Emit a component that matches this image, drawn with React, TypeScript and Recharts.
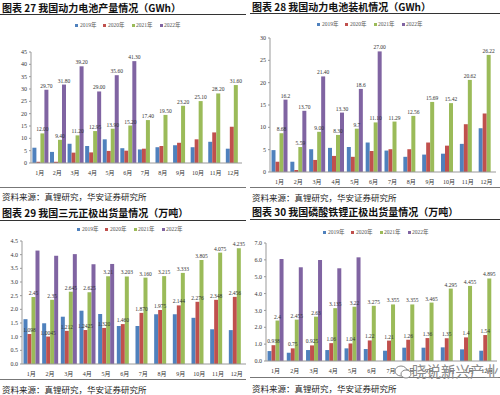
import { BarChart, Bar, XAxis, YAxis, LabelList } from 'recharts';

const months = ['1月', '2月', '3月', '4月', '5月', '6月', '7月', '8月', '9月', '10月', '11月', '12月'];
const years = ['2019年', '2020年', '2021年', '2022年'];
const colors = ['#4F81BD', '#C0504D', '#9BBB59', '#8064A2'];

// 图表27 动力电池产量 (GWh)
const prod2019 = [6.2, 4.5, 7.8, 6.9, 9.6, 6.0, 5.5, 6.4, 7.2, 6.4, 8.6, 5.8];
const prod2020 = [0.5, 0.5, 4.2, 4.3, 4.9, 5.0, 5.8, 6.9, 8.2, 9.6, 12.4, 14.7];
const prod2021 = [12.0, 9.4, 11.2, 12.95, 13.9, 15.2, 17.4, 19.5, 23.2, 25.1, 28.2, 31.6];
const prod2022 = [29.7, 31.8, 39.2, 29.0, 35.6, 41.3];

// 图表28 动力电池装机 (GWh)
const inst2019 = [4.9, 2.3, 5.1, 5.4, 5.6, 6.6, 4.8, 3.4, 3.9, 4.1, 6.3, 9.8];
const inst2020 = [2.3, 0.45, 2.7, 3.6, 3.4, 4.7, 5.1, 5.1, 6.6, 5.9, 10.7, 13.1];
const inst2021 = [8.68, 5.59, 9.0, 8.3, 9.7, 11.1, 11.29, 12.56, 15.69, 15.42, 20.62, 26.22];
const inst2022 = [16.2, 13.7, 21.4, 13.3, 18.6, 27.0];
const inst2021Labels = ['8.68', '5.59', '9.00', '8.30', '9.7', '11.10', '11.29', '12.56', '15.69', '15.42', '20.62', '26.22'];
const inst2022Labels = ['16.2', '13.70', '21.40', '13.30', '18.6', '27.00'];

// 图表29 三元正极出货量 (万吨)
const ncm2019 = [1.64, 1.49, 1.73, 1.95, 1.83, 1.39, 1.39, 1.82, 1.82, 1.69, 1.27, 1.24];
const ncm2020 = [1.098, 1.0045, 1.212, 1.2425, 1.32, 1.46, 1.87, 1.975, 2.144, 2.276, 2.348, 2.456];
const ncm2021 = [2.45, 2.35, 2.645, 2.625, 3.21, 3.203, 3.16, 3.215, 3.333, 3.805, 4.075, 4.235];
const ncm2022 = [4.15, 3.96, 4.02, 3.65, 3.66];
const ncm2020Labels = ['1.098', '1.0045', '1.212', '1.2425', '1.320', '1.460', '1.870', '1.975', '2.144', '2.276', '2.348', '2.456'];
const ncm2021Labels = ['2.45', '2.35', '2.645', '2.625', '3.21', '3.203', '3.160', '3.215', '3.333', '3.805', '4.075', '4.235'];

// 图表30 磷酸铁锂正极出货量 (万吨)
const lfp2019 = [0.59, 0.49, 0.65, 0.65, 0.75, 0.71, 0.61, 0.79, 0.79, 0.81, 0.69, 0.61];
const lfp2020 = [0.938, 0.75, 0.925, 1.06, 1.04, 1.22, 1.21, 1.26, 1.36, 1.35, 1.4, 1.54];
const lfp2021 = [2.4, 2.455, 2.63, 3.135, 3.22, 3.275, 3.355, 3.355, 3.465, 4.295, 4.455, 4.895];
const lfp2022 = [6.05, 5.56, 5.99, 5.5, 6.15];
const lfp2020Labels = ['0.938', '0.75', '0.925', '1.06', '1.04', '1.22', '1.21', '1.26', '1.36', '1.35', '1.4', '1.54'];
const lfp2021Labels = ['2.4', '2.455', '2.63', '3.135', '3.22', '3.275', '3.355', '3.355', '3.465', '4.295', '4.455', '4.895'];

const source = '资料来源：真锂研究，华安证券研究所';
const serif = '"Liberation Serif", "Noto Sans CJK SC", serif';
const cjk = '"Noto Sans CJK SC", sans-serif';

type Labels = (string[] | null)[];

function buildRows(series: number[][], labels: Labels) {
  return months.map((m, i) => {
    const row: any = { month: m };
    series.forEach((s, k) => {
      row['y' + k] = s[i] ?? null;
      const l = labels[k];
      if (l && l[i] != null) row['l' + k] = l[i];
    });
    return row;
  });
}

const YW = 22;
const XH = 14;

function Chart({ plot, rows, max, ticks, fmt, labels }: any) {
  const mt = 8;
  const mr = 4;
  return (
    <div style={{ position: 'absolute', left: plot.x - YW, top: plot.y - mt }}>
      <BarChart
        width={plot.w + YW + mr}
        height={plot.h + mt + XH}
        data={rows}
        margin={{ top: mt, right: mr, bottom: 0, left: 0 }}
        barCategoryGap="8%"
        barGap={0}
      >
        <XAxis
          dataKey="month"
          height={XH}
          interval={0}
          tickLine={false}
          axisLine={{ stroke: '#999' }}
          tick={{ fontSize: 6, fill: '#333', fontFamily: serif }}
        />
        <YAxis
          width={YW}
          domain={[0, max]}
          ticks={ticks}
          interval={0}
          tickFormatter={fmt}
          axisLine={{ stroke: '#999' }}
          tickLine={{ stroke: '#999' }}
          tickSize={2}
          tick={{ fontSize: 6, fill: '#333', fontFamily: serif }}
        />
        {colors.map((c, k) => (
          <Bar key={k} dataKey={'y' + k} fill={c} isAnimationActive={false}>
            {labels[k] && (
              <LabelList
                dataKey={'l' + k}
                position="top"
                offset={2}
                style={{ fontSize: 5.5, fill: '#333', fontFamily: serif }}
              />
            )}
          </Bar>
        ))}
      </BarChart>
    </div>
  );
}

function LegendRow({ cx, y }: { cx: number; y: number }) {
  return (
    <div
      style={{
        position: 'absolute', left: cx - 60, top: y - 4, width: 120, height: 8,
        display: 'flex', justifyContent: 'center', alignItems: 'center', gap: 7,
        fontSize: 5.5, color: '#555', fontFamily: serif,
      }}
    >
      {years.map((yr, k) => (
        <div key={yr} style={{ display: 'flex', alignItems: 'center', gap: 1.5 }}>
          <span style={{ width: 3, height: 3, background: colors[k], display: 'inline-block' }} />
          <span>{yr}</span>
        </div>
      ))}
    </div>
  );
}

function Panel(p: any) {
  return (
    <>
      <div style={{ position: 'absolute', left: p.x + 2, top: p.titleY - 7, fontSize: 10, fontWeight: 700, fontFamily: cjk, color: '#111', whiteSpace: 'nowrap', lineHeight: '14px' }}>
        {p.title}
      </div>
      <div style={{ position: 'absolute', left: p.x, top: p.ruleY, width: p.w, height: 1, background: '#333' }} />
      <LegendRow cx={p.legendX} y={p.legendY} />
      <Chart plot={p.plot} rows={p.rows} max={p.max} ticks={p.ticks} fmt={p.fmt} labels={p.labels} />
      <div style={{ position: 'absolute', left: p.x, top: p.srcRuleY, width: p.w, height: 1, background: '#777' }} />
      <div style={{ position: 'absolute', left: p.x + 2, top: p.srcY - 6, fontSize: 8.5, fontFamily: cjk, color: '#222', whiteSpace: 'nowrap', lineHeight: '12px' }}>
        {source}
      </div>
    </>
  );
}

const fmt0 = (v: number) => String(v);
const fmt1 = (v: number) => v.toFixed(1);

export default function App() {
  return (
    <div style={{ position: 'relative', width: 500, height: 395, background: '#fff', overflow: 'hidden' }}>
      <style>{'body{margin:0}'}</style>
      <Panel
        x={0} w={246} title="图表 27 我国动力电池产量情况（GWh）"
        titleY={8} ruleY={14} legendX={128} legendY={25}
        plot={{ x: 31, y: 52, w: 211, h: 111 }}
        rows={buildRows([prod2019, prod2020, prod2021, prod2022], [null, null, prod2021.map((v) => v.toFixed(2)), prod2022.map((v) => v.toFixed(2))])}
        labels={[false, false, true, true]}
        max={45} ticks={[0, 5, 10, 15, 20, 25, 30, 35, 40, 45]} fmt={fmt0}
        srcRuleY={187} srcY={196}
      />
      <Panel
        x={250} w={250} title="图表 28 我国动力电池装机情况（GWh）"
        titleY={7} ruleY={13} legendX={370} legendY={24}
        plot={{ x: 270, y: 38, w: 226, h: 134 }}
        rows={buildRows([inst2019, inst2020, inst2021, inst2022], [null, null, inst2021Labels, inst2022Labels])}
        labels={[false, false, true, true]}
        max={30} ticks={[0, 5, 10, 15, 20, 25, 30]} fmt={fmt0}
        srcRuleY={187} srcY={197}
      />
      <Panel
        x={0} w={246} title="图表 29 我国三元正极出货量情况（万吨）"
        titleY={213} ruleY={220} legendX={130} legendY={229}
        plot={{ x: 22, y: 241, w: 224, h: 123 }}
        rows={buildRows([ncm2019, ncm2020, ncm2021, ncm2022], [null, ncm2020Labels, ncm2021Labels, null])}
        labels={[false, true, true, false]}
        max={4.5} ticks={[0, 0.5, 1, 1.5, 2, 2.5, 3, 3.5, 4, 4.5]} fmt={fmt1}
        srcRuleY={379} srcY={389}
      />
      <Panel
        x={250} w={250} title="图表 30 我国磷酸铁锂正极出货量情况（万吨）"
        titleY={212} ruleY={219} legendX={376} legendY={232}
        plot={{ x: 266, y: 243, w: 231, h: 118 }}
        rows={buildRows([lfp2019, lfp2020, lfp2021, lfp2022], [null, lfp2020Labels, lfp2021Labels, null])}
        labels={[false, true, true, false]}
        max={7} ticks={[0, 1, 2, 3, 4, 5, 6, 7]} fmt={fmt1}
        srcRuleY={377} srcY={388}
      />
      <svg style={{ position: 'absolute', left: 394, top: 364 }} width={18} height={16}>
        <ellipse cx={7} cy={7} rx={6} ry={5} fill="#fff" stroke="#888" strokeWidth={1} />
        <ellipse cx={12} cy={10} rx={5} ry={4} fill="#fff" stroke="#888" strokeWidth={1} />
      </svg>
      <div style={{ position: 'absolute', left: 412, top: 362, fontSize: 14.5, fontFamily: cjk, color: '#8a8a8a', whiteSpace: 'nowrap', lineHeight: '18px' }}>
        晓说新兴产业
      </div>
    </div>
  );
}
